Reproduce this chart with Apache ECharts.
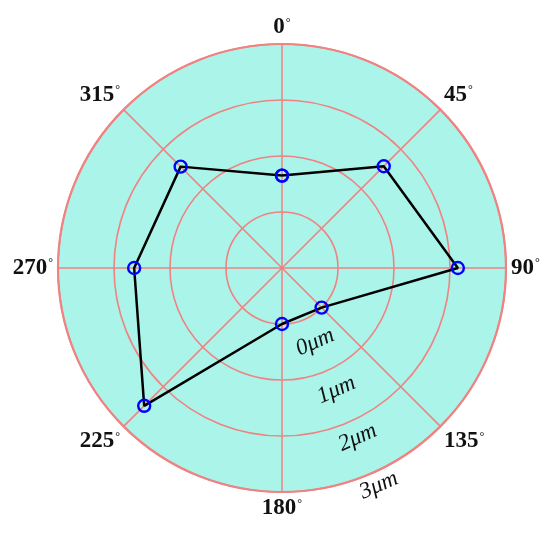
<!DOCTYPE html>
<html>
<head>
<meta charset="utf-8">
<script src="https://cdn.jsdelivr.net/npm/echarts@6/dist/echarts.min.js"></script>
<style>html,body{margin:0;padding:0;background:#fff}#c{width:550px;height:533px}</style>
</head>
<body>
<div id="c"></div>
<script>
// Angle (compass degrees) of each measurement, loop closed back to 0°
const angles = [0, 45, 90, 135, 180, 225, 270, 315, 360];
// Deviation in µm at each angle
const deviation = [0.65, 1.57, 2.14, 0.0, 0.0, 2.48, 1.64, 1.56, 0.65];
// Ring labels
const ringValues = [0, 1, 2, 3];
const ringLabels = ['0μm', '1μm', '2μm', '3μm'];

const gridColor = '#f08282';
const fillColor = '#abf4e9';
const serif = '"Liberation Serif", "DejaVu Serif", serif';

const chart = echarts.init(document.getElementById('c'), null, {renderer: 'canvas'});
chart.setOption({
  backgroundColor: '#ffffff',
  animation: false,
  polar: [
    {center: [282, 268], radius: [0, 224]},
    {center: [282, 268], radius: [29, 238]},
    {center: [282, 268], radius: [0, 224]}
  ],
  angleAxis: [
    {
      polarIndex: 0, type: 'value', min: 0, max: 360, interval: 45,
      startAngle: 90, clockwise: true, z: 3,
      axisLine: {show: true, lineStyle: {color: gridColor, width: 2.2}},
      axisTick: {show: false},
      splitLine: {show: true, lineStyle: {color: gridColor, width: 1.5, opacity: 1}},
      splitArea: {show: false},
      axisLabel: {
        margin: 5,
        formatter: v => v === 360 ? '' : '{n|' + v + '}{d|°}',
        rich: {
          n: {fontFamily: serif, fontWeight: 'bold', fontSize: 23, color: '#111'},
          d: {fontFamily: serif, fontSize: 12, color: '#111', padding: [0, 0, 10, 1]}
        }
      }
    },
    {
      polarIndex: 1, type: 'value', min: 0, max: 360, startAngle: -66, show: false
    },
    {
      polarIndex: 2, type: 'value', min: 0, max: 360, interval: 90, startAngle: 90, z: 0,
      axisLine: {show: false}, axisTick: {show: false}, axisLabel: {show: false},
      splitLine: {show: false},
      splitArea: {show: true, areaStyle: {color: [fillColor, fillColor], opacity: 1}}
    }
  ],
  radiusAxis: [
    {
      polarIndex: 0, type: 'value', min: -1, max: 3, interval: 1, z: 3,
      axisLine: {show: false}, axisTick: {show: false}, axisLabel: {show: false},
      splitLine: {show: true, lineStyle: {color: gridColor, width: 1.6, opacity: 1}}
    },
    {
      polarIndex: 1, type: 'value', min: -1, max: 3, interval: 1, z: 4,
      axisLine: {show: false}, axisTick: {show: false}, splitLine: {show: false},
      axisLabel: {
        show: true, margin: 0, rotate: 24, align: 'center', verticalAlign: 'middle',
        fontFamily: serif, fontStyle: 'italic', fontSize: 23, color: '#111',
        formatter: v => { const i = ringValues.indexOf(v); return i < 0 ? '' : ringLabels[i]; }
      }
    },
    {
      polarIndex: 2, type: 'value', min: 0, max: 1, show: false
    }
  ],
  series: [{
    type: 'line', coordinateSystem: 'polar', polarIndex: 0,
    data: angles.map((a, i) => [deviation[i], a]),
    symbol: 'circle', symbolSize: 12,
    lineStyle: {color: '#000', width: 2.5},
    itemStyle: {color: 'rgba(0,0,0,0)', borderColor: '#0000ff', borderWidth: 2.4},
    z: 5
  }]
});
</script>
</body>
</html>
